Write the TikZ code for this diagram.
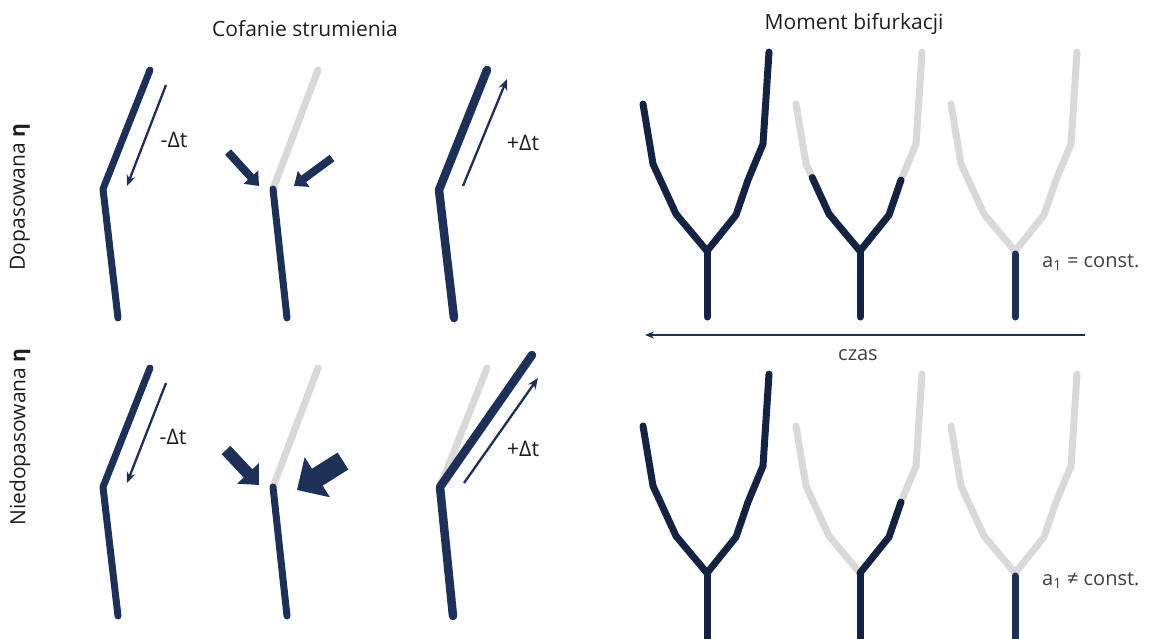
\documentclass[tikz,border=0pt]{standalone}
\usepackage{fontspec}
\setmainfont{Open Sans}
\usetikzlibrary{arrows.meta,calc}
\definecolor{navy}{RGB}{28,48,88}
\definecolor{navyd}{RGB}{20,35,66}
\definecolor{lgray}{RGB}{217,217,217}
\definecolor{txt}{RGB}{30,30,30}
\definecolor{txtl}{RGB}{64,64,64}
\newcommand\treepts{%
  \coordinate (J) at (0,0);
  \coordinate (L1) at (-64,-147);
  \coordinate (L2) at (-54,-87);
  \coordinate (L3) at (-31,-37);
  \coordinate (R1) at (29,-36);
  \coordinate (R2) at (41,-71);
  \coordinate (R3) at (56,-107);
  \coordinate (R4) at (62,-199);
  \coordinate (T0) at (0,3);
  \coordinate (T) at (0,66);
  \coordinate (TL) at (0,90);}
\begin{document}
\begin{tikzpicture}[x=1pt,y=-1pt,
  stem/.style={navy,line width=7pt,line cap=round,line join=round},
  ghost/.style={lgray,line width=7pt,line cap=round,line join=round},
  treeline/.style={navyd,line width=7pt,line cap=round,line join=round},
  treeghost/.style={lgray,line width=7pt,line cap=round,line join=round},
  thinarrow/.style={navy,line width=2.3pt,-{Stealth[length=11pt,width=9pt]}},
  timearrow/.style={navy,line width=2pt,-{Stealth[length=9pt,width=7pt]}},
  title/.style={text=txt,font=\fontsize{21}{25}\selectfont,inner sep=0pt},
  lbl/.style={text=txt,font=\fontsize{21.5}{25}\selectfont,inner sep=0pt},
  lbll/.style={text=txtl,font=\fontsize{20}{24}\selectfont,inner sep=0pt}
]
\useasboundingbox (0,0) rectangle (1150,638);

% titles
\node[title] (t1) at (305,29) {Cofanie strumienia};
\node[title] (t2) at (854,24) {Moment bifurkacji};
\node[title,rotate=90] (r1) at (20,197) {Dopasowana \textbf{η}};
\node[title,rotate=90] (r2) at (20,437) {Niedopasowana \textbf{η}};

% ---------- top row, left ----------
\coordinate (a1) at (150,70); \coordinate (a2) at (103,189); \coordinate (a3) at (118,318);
\draw[stem] (a1) -- (a2) -- (a3);
\coordinate (aa1) at (166,85); \coordinate (aa2) at (127,186);
\draw[thinarrow] (aa1) -- (aa2);
\node[lbl] (la) at (174,140) {-Δt};

\coordinate (b1) at (318,70); \coordinate (b2) at (273,189); \coordinate (b3) at (287,318);
\draw[ghost] (b1) -- (b2);
\draw[stem] (b2) -- (b3);
\coordinate (ba1) at (228,152); \coordinate (ba2) at (259,186);
\coordinate (bb1) at (332,158); \coordinate (bb2) at (294,186);
\draw[navy,line width=8pt,-{Triangle[width=19pt,length=12pt]}] (ba1) -- (ba2);
\draw[navy,line width=8pt,-{Triangle[width=19pt,length=12pt]}] (bb1) -- (bb2);

\coordinate (c1) at (487,70); \coordinate (c2) at (439,190); \coordinate (c3) at (454,318);
\draw[stem,line width=8.5pt] (c1) -- (c2) -- (c3);
\coordinate (ca1) at (463,186); \coordinate (ca2) at (507,79);
\draw[thinarrow] (ca1) -- (ca2);
\node[lbl] (lc) at (523,143) {+Δt};

% ---------- bottom row, left ----------
\coordinate (d1) at (150,368); \coordinate (d2) at (103,487); \coordinate (d3) at (118,616);
\draw[stem] (d1) -- (d2) -- (d3);
\coordinate (da1) at (166,383); \coordinate (da2) at (127,483);
\draw[thinarrow] (da1) -- (da2);
\node[lbl] (ld) at (173,437) {-Δt};

\coordinate (e1) at (318,368); \coordinate (e2) at (273,487); \coordinate (e3) at (287,616);
\draw[ghost] (e1) -- (e2);
\draw[stem] (e2) -- (e3);
\coordinate (ea1) at (226,450); \coordinate (ea2) at (259,485);
\coordinate (eb1) at (343,461); \coordinate (eb2) at (297,490);
\draw[navy,line width=12pt,-{Triangle[width=29pt,length=16pt]}] (ea1) -- (ea2);
\draw[navy,line width=20pt,-{Triangle[width=46pt,length=24pt]}] (eb1) -- (eb2);

\coordinate (f1) at (487,368); \coordinate (f2) at (440,487); \coordinate (f3) at (453,616);
\coordinate (f0) at (532,355);
\draw[ghost] (f1) -- (f2);
\draw[stem,line width=8.5pt] (f0) -- (f2) -- (f3);
\coordinate (fa1) at (464,483); \coordinate (fa2) at (538,378);
\draw[thinarrow] (fa1) -- (fa2);
\node[lbl] (lf) at (523,449) {+Δt};

% ---------- right: top trees ----------
\begin{scope}[shift={(707,251)}]
  \treepts
  \draw[treeline] (L1) -- (L2) -- (L3) -- (J) -- (R1) -- (R2) -- (R3) -- (R4);
  \draw[treeline] (J) -- (T);
\end{scope}
\begin{scope}[shift={(860,251)}]
  \treepts
  \draw[treeghost] (L1) -- (L2) -- (L3) -- (J) -- (R1) -- (R2) -- (R3) -- (R4);
  \draw[treeline] ($(L2)!0.27!(L3)$) -- (L3) -- (J) -- (R1) -- (R2);
  \draw[treeline] (J) -- (T);
\end{scope}
\begin{scope}[shift={(1015,251)}]
  \treepts
  \draw[treeghost] (L1) -- (L2) -- (L3) -- (J) -- (R1) -- (R2) -- (R3) -- (R4);
  \draw[treeline,navy] (T0) -- (T);
\end{scope}
\node[lbll,anchor=west] (k1) at (1042,262) {a\textsubscript{1} = const.};

% time axis
\coordinate (ts) at (1085,335); \coordinate (te) at (645,335);
\draw[timearrow] (ts) -- (te);
\node[lbll] (cz) at (858,355) {czas};

% ---------- right: bottom trees ----------
\begin{scope}[shift={(707,573)}]
  \treepts
  \draw[treeline] (L1) -- (L2) -- (L3) -- (J) -- (R1) -- (R2) -- (R3) -- (R4);
  \draw[treeline] (J) -- (TL);
\end{scope}
\begin{scope}[shift={(860,573)}]
  \treepts
  \draw[treeghost] (L1) -- (L2) -- (L3) -- (J) -- (R1) -- (R2) -- (R3) -- (R4);
  \draw[treeline] (J) -- (R1) -- (R2);
  \draw[treeline] (J) -- (TL);
\end{scope}
\begin{scope}[shift={(1015,573)}]
  \treepts
  \draw[treeghost] (L1) -- (L2) -- (L3) -- (J) -- (R1) -- (R2) -- (R3) -- (R4);
  \draw[treeline,navy] (T0) -- (TL);
\end{scope}
\node[lbll,anchor=west] (k2) at (1042,580) {a\textsubscript{1} ≠ const.};

\end{tikzpicture}
\end{document}
